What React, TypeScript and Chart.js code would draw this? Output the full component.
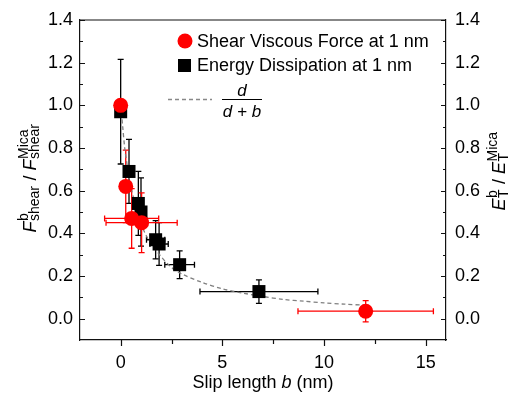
import React, { useEffect, useRef } from "react";
import { Chart, registerables } from "chart.js";

Chart.register(...registerables);

// ---- data ----
const shearB = [0, 0.25, 0.54, 1.03, 12.05];
const shearRatio = [1.0, 0.62, 0.47, 0.45, 0.035];
const shearBErr = [0, 0, 1.33, 1.75, 3.33];
const shearRatioErr = [0, 0.17, 0.14, 0.14, 0.05];

const energyB = [0, 0.41, 0.87, 1.0, 1.72, 1.89, 2.9, 6.8];
const energyRatio = [0.97, 0.69, 0.54, 0.5, 0.37, 0.35, 0.253, 0.127];
const energyBErr = [0, 0.12, 0.12, 0.12, 0.45, 0.45, 0.73, 2.9];
const energyRatioErr = [0.245, 0.15, 0.15, 0.16, 0.09, 0.1, 0.065, 0.055];

const curveB = [0, 0.1, 0.2, 0.35, 0.5, 0.7, 0.9, 1.2, 1.5, 2, 2.5, 3, 4, 5, 6, 7, 8, 9, 10, 11, 12];
const curveRatio = [1.0, 0.9, 0.8, 0.7, 0.62, 0.54, 0.47, 0.4, 0.35, 0.29, 0.24, 0.21, 0.17, 0.14, 0.12, 0.104, 0.09, 0.082, 0.074, 0.068, 0.063];

const X_TICKS = [0, 5, 10, 15];
const X_MINOR = [2.5, 7.5, 12.5];
const Y_TICKS = [0, 0.2, 0.4, 0.6, 0.8, 1.0, 1.2, 1.4];
const Y_MINOR = [0.1, 0.3, 0.5, 0.7, 0.9, 1.1, 1.3];

const LEGEND_SHEAR = "Shear Viscous Force at 1 nm";
const LEGEND_ENERGY = "Energy Dissipation at 1 nm";
const X_TITLE_PARTS = ["Slip length ", "b", " (nm)"];

const FONT = "'Liberation Sans', Arial, Helvetica, sans-serif";
const RED = "#ff0000";
const BLACK = "#000000";

type Seg = { t?: string; it?: boolean; sup?: string; sub?: string };

function drawComposite(ctx: CanvasRenderingContext2D, segs: Seg[], cx: number, cy: number, main: number, small: number, supDy: number, subDy: number) {
  const mainFont = (it: boolean) => `${it ? "italic " : ""}${main}px ${FONT}`;
  const smallFont = `${small}px ${FONT}`;
  const widths = segs.map((s) => {
    if (s.t !== undefined) {
      ctx.font = mainFont(!!s.it);
      return ctx.measureText(s.t).width;
    }
    ctx.font = smallFont;
    return Math.max(ctx.measureText(s.sup || "").width, ctx.measureText(s.sub || "").width) + 1;
  });
  const total = widths.reduce((a, b) => a + b, 0);
  ctx.save();
  ctx.translate(cx, cy);
  ctx.rotate(-Math.PI / 2);
  ctx.fillStyle = "#000";
  ctx.textBaseline = "alphabetic";
  ctx.textAlign = "left";
  let x = -total / 2;
  segs.forEach((s, i) => {
    if (s.t !== undefined) {
      ctx.font = mainFont(!!s.it);
      ctx.fillText(s.t, x, 0);
    } else {
      ctx.font = smallFont;
      if (s.sup) ctx.fillText(s.sup, x + 0.5, supDy);
      if (s.sub) ctx.fillText(s.sub, x + 0.5, subDy);
    }
    x += widths[i];
  });
  ctx.restore();
}

const decorPlugin = {
  id: "decor",
  beforeDatasetsDraw(chart: any) {
    const ctx: CanvasRenderingContext2D = chart.ctx;
    const xs = chart.scales.x;
    const ys = chart.scales.y;
    const drawBars = (dsIndex: number, color: string) => {
      const ds = chart.data.datasets[dsIndex];
      ctx.save();
      ctx.strokeStyle = color;
      ctx.lineWidth = 1.3;
      const cap = 3;
      ds.data.forEach((p: any) => {
        const px = xs.getPixelForValue(p.x);
        const py = ys.getPixelForValue(p.y);
        if (p.yErr > 0) {
          const y1 = ys.getPixelForValue(p.y + p.yErr);
          const y2 = ys.getPixelForValue(p.y - p.yErr);
          ctx.beginPath();
          ctx.moveTo(px, y1); ctx.lineTo(px, y2);
          ctx.moveTo(px - cap, y1); ctx.lineTo(px + cap, y1);
          ctx.moveTo(px - cap, y2); ctx.lineTo(px + cap, y2);
          ctx.stroke();
        }
        if (p.xErr > 0) {
          const x1 = xs.getPixelForValue(p.x - p.xErr);
          const x2 = xs.getPixelForValue(p.x + p.xErr);
          ctx.beginPath();
          ctx.moveTo(x1, py); ctx.lineTo(x2, py);
          ctx.moveTo(x1, py - cap); ctx.lineTo(x1, py + cap);
          ctx.moveTo(x2, py - cap); ctx.lineTo(x2, py + cap);
          ctx.stroke();
        }
      });
      ctx.restore();
    };
    drawBars(1, BLACK);
    drawBars(0, RED);
  },
  afterDraw(chart: any) {
    const ctx: CanvasRenderingContext2D = chart.ctx;
    const { left, right, top, bottom } = chart.chartArea;
    const xs = chart.scales.x;
    const ys = chart.scales.y;
    ctx.save();
    ctx.strokeStyle = "#111";
    ctx.lineWidth = 1.2;
    // frame top
    ctx.beginPath();
    ctx.moveTo(left, top); ctx.lineTo(right, top);
    ctx.stroke();
    // x ticks (outward)
    ctx.beginPath();
    X_TICKS.forEach((v) => { const p = Math.round(xs.getPixelForValue(v)) + 0.5; ctx.moveTo(p, bottom); ctx.lineTo(p, bottom + 6); });
    X_MINOR.forEach((v) => { const p = Math.round(xs.getPixelForValue(v)) + 0.5; ctx.moveTo(p, bottom); ctx.lineTo(p, bottom + 4); });
    // y ticks (inward both sides)
    Y_TICKS.forEach((v) => {
      const p = Math.round(ys.getPixelForValue(v)) + 0.5;
      ctx.moveTo(left, p); ctx.lineTo(left + 5, p);
      ctx.moveTo(right, p); ctx.lineTo(right - 5, p);
    });
    Y_MINOR.forEach((v) => {
      const p = Math.round(ys.getPixelForValue(v)) + 0.5;
      ctx.moveTo(left, p); ctx.lineTo(left + 3, p);
      ctx.moveTo(right, p); ctx.lineTo(right - 3, p);
    });
    ctx.stroke();
    ctx.restore();

    // legend
    ctx.save();
    ctx.fillStyle = RED;
    ctx.beginPath();
    ctx.arc(185, 41, 7.5, 0, Math.PI * 2);
    ctx.fill();
    ctx.fillStyle = BLACK;
    ctx.fillRect(178, 59, 13, 13);
    ctx.font = `18px ${FONT}`;
    ctx.textBaseline = "alphabetic";
    ctx.textAlign = "left";
    ctx.fillText(LEGEND_SHEAR, 197, 47);
    ctx.fillText(LEGEND_ENERGY, 197, 71);
    ctx.strokeStyle = "#888";
    ctx.lineWidth = 1.3;
    ctx.setLineDash([4, 3]);
    ctx.beginPath();
    ctx.moveTo(168, 99.5); ctx.lineTo(212, 99.5);
    ctx.stroke();
    ctx.setLineDash([]);
    ctx.strokeStyle = "#000";
    ctx.lineWidth = 1;
    ctx.beginPath();
    ctx.moveTo(222, 99.5); ctx.lineTo(262, 99.5);
    ctx.stroke();
    ctx.font = `italic 17px ${FONT}`;
    ctx.textAlign = "center";
    ctx.fillText("d", 242, 96);
    ctx.fillText("d + b", 242, 117);
    ctx.restore();

    // x title
    ctx.save();
    ctx.fillStyle = "#000";
    ctx.textBaseline = "alphabetic";
    const fonts = [`18px ${FONT}`, `italic 18px ${FONT}`, `18px ${FONT}`];
    const ws = X_TITLE_PARTS.map((s, i) => { ctx.font = fonts[i]; return ctx.measureText(s).width; });
    let tx = (left + right) / 2 - ws.reduce((a, b) => a + b, 0) / 2;
    X_TITLE_PARTS.forEach((s, i) => { ctx.font = fonts[i]; ctx.fillText(s, tx, 388); tx += ws[i]; });
    ctx.restore();

    // y titles
    drawComposite(ctx, [
      { t: "F", it: true }, { sup: "b", sub: "shear" }, { t: " / " }, { t: "F", it: true }, { sup: "Mica", sub: "shear" },
    ], 36, 178, 18, 14, -8, 3);
    drawComposite(ctx, [
      { t: "E", it: true }, { sup: "b", sub: "T" }, { t: " / " }, { t: "E", it: true }, { sup: "Mica", sub: "T" },
    ], 505, 171, 18, 14, -8, 3);
  },
};

export default function App() {
  const ref = useRef<HTMLCanvasElement | null>(null);
  useEffect(() => {
    if (!ref.current) return;
    const tickFont = { family: FONT, size: 18 };
    const chart = new Chart(ref.current, {
      type: "scatter",
      data: {
        datasets: [
          {
            label: LEGEND_SHEAR,
            data: shearB.map((b, i) => ({ x: b, y: shearRatio[i], xErr: shearBErr[i], yErr: shearRatioErr[i] })) as any,
            backgroundColor: RED,
            borderColor: RED,
            pointStyle: "circle",
            pointRadius: 7.5,
            borderWidth: 0,
            order: 0,
          },
          {
            label: LEGEND_ENERGY,
            data: energyB.map((b, i) => ({ x: b, y: energyRatio[i], xErr: energyBErr[i], yErr: energyRatioErr[i] })) as any,
            backgroundColor: BLACK,
            borderColor: BLACK,
            pointStyle: "rect",
            pointRadius: 9.2,
            borderWidth: 0,
            order: 1,
          },
          {
            label: "d/(d+b)",
            type: "line",
            data: curveB.map((b, i) => ({ x: b, y: curveRatio[i] })),
            borderColor: "#808080",
            borderWidth: 1.3,
            borderDash: [4, 3],
            pointRadius: 0,
            tension: 0.3,
            fill: false,
            order: 2,
          } as any,
        ],
      },
      options: {
        animation: false,
        responsive: true,
        maintainAspectRatio: false,
        layout: { padding: { top: 20, left: 0, right: 0, bottom: 0 } },
        plugins: { legend: { display: false }, tooltip: { enabled: false }, title: { display: false } },
        scales: {
          x: {
            type: "linear",
            position: "bottom",
            min: -2,
            max: 16,
            afterBuildTicks: (s: any) => { s.ticks = X_TICKS.map((v) => ({ value: v })); },
            afterFit: (s: any) => { s.height = 55; },
            ticks: { color: "#000", font: tickFont, padding: 12, maxRotation: 0, autoSkip: false, callback: (v: any) => String(v) },
            grid: { display: false, drawTicks: false, tickLength: 0 },
            border: { display: true, color: "#111", width: 1.2 },
          },
          y: {
            type: "linear",
            position: "left",
            min: -0.1,
            max: 1.4,
            afterBuildTicks: (s: any) => { s.ticks = Y_TICKS.map((v) => ({ value: v })); },
            afterFit: (s: any) => { s.width = 80; },
            ticks: { color: "#000", font: tickFont, padding: 7, callback: (v: any) => Number(v).toFixed(1) },
            grid: { display: false, drawTicks: false, tickLength: 0 },
            border: { display: true, color: "#111", width: 1.2 },
          },
          y2: {
            type: "linear",
            position: "right",
            min: -0.1,
            max: 1.4,
            afterBuildTicks: (s: any) => { s.ticks = Y_TICKS.map((v) => ({ value: v })); },
            afterFit: (s: any) => { s.width = 65; },
            ticks: { color: "#000", font: tickFont, padding: 9, callback: (v: any) => Number(v).toFixed(1) },
            grid: { display: false, drawTicks: false, tickLength: 0 },
            border: { display: true, color: "#111", width: 1.2 },
          },
        },
      } as any,
      plugins: [decorPlugin],
    });
    return () => chart.destroy();
  }, []);
  return (
    <div style={{ position: "absolute", left: 0, top: 0, width: 511, height: 395, background: "#fff" }}>
      <canvas ref={ref} />
    </div>
  );
}
